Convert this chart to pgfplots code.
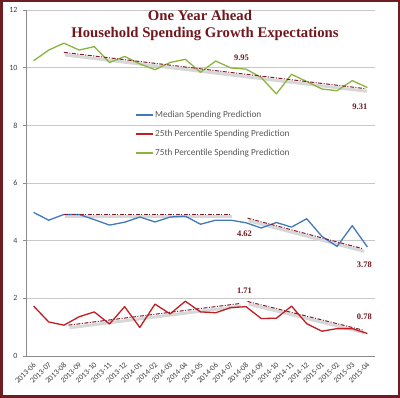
\documentclass[border=0pt]{standalone}
\usepackage{pgfplots}
\pgfplotsset{compat=1.18}
\usepackage{fontspec}
\setmainfont{Liberation Serif}
\newfontfamily\calibri{Carlito}
\definecolor{frame}{RGB}{110,30,35}
\definecolor{ttl}{RGB}{112,24,30}
\definecolor{bl}{RGB}{65,120,190}
\definecolor{rd}{RGB}{192,30,35}
\definecolor{gr}{RGB}{140,180,60}
\definecolor{trend}{RGB}{130,30,45}
\definecolor{shad}{RGB}{215,215,215}
\definecolor{axgray}{RGB}{140,140,140}
\definecolor{gridc}{RGB}{200,200,200}
\definecolor{txt}{RGB}{64,64,64}
\definecolor{legtxt}{RGB}{89,89,89}
\begin{document}
\begin{tikzpicture}
\useasboundingbox (0,0) rectangle (400bp,398bp);
\fill[white] (0,0) rectangle (400bp,398bp);
\draw[frame, line width=2.5bp] (1.25bp,1.25bp) rectangle (398.75bp,396.75bp);
\begin{axis}[
  at={(26bp,42bp)}, anchor=south west, scale only axis,
  width=349bp, height=346bp,
  xmin=-0.5, xmax=22.5, ymin=0, ymax=12,
  axis lines*=left,
  axis line style={axgray, line width=0.8bp},
  ytick={0,2,...,12},
  ymajorgrids, grid style={gridc, line width=0.8bp},
  xtick={0,...,22},
  xticklabels={2013-06,2013-07,2013-08,2013-09,2013-10,2013-11,2013-12,2014-01,2014-02,2014-03,2014-04,2014-05,2014-06,2014-07,2014-08,2014-09,2014-10,2014-11,2014-12,2015-01,2015-02,2015-03,2015-04},
  x tick style={draw=none},
  y tick style={axgray, line width=0.8bp},
  tick align=outside, major tick length=3bp,
  extra x ticks={-0.5,0.5,...,22.5}, extra x tick labels={},
  extra x tick style={grid=none, major tick length=4bp, tick style={draw=axgray, line width=0.8bp}},
  /pgf/number format/assume math mode=true,
  yticklabel style={font=\calibri\fontsize{8}{8}\selectfont, text=txt, xshift=-2bp},
  xticklabel style={font=\calibri\fontsize{7.8}{8}\selectfont, text=txt, rotate=45, anchor=east, xshift=1bp, yshift=-4bp},
]
% shadows of trend lines
\addplot[forget plot, shad, line width=3bp] coordinates {(2.07,10.44) (21.97,9.18)};
\addplot[forget plot, shad, line width=3bp] coordinates {(2.07,4.83) (13.07,4.83)};
\addplot[forget plot, shad, line width=3bp] coordinates {(14.17,4.69) (21.77,3.63)};
\addplot[forget plot, shad, line width=3bp] coordinates {(2.37,0.98) (13.67,1.73)};
\addplot[forget plot, shad, line width=3bp] coordinates {(14.17,1.80) (21.77,0.81)};
% series
\addplot[forget plot, bl, solid, line width=1.3bp, line join=round] coordinates {(0,4.98) (1,4.71) (2,4.91) (3,4.91) (4,4.73) (5,4.54) (6,4.64) (7,4.82) (8,4.65) (9,4.82) (10,4.85) (11,4.57) (12,4.71) (13,4.71) (14,4.62) (15,4.44) (16,4.63) (17,4.47) (18,4.76) (19,4.15) (20,3.80) (21,4.52) (22,3.78)};
\addplot[forget plot, rd, solid, line width=1.3bp, line join=round] coordinates {(0,1.73) (1,1.18) (2,1.07) (3,1.36) (4,1.53) (5,1.11) (6,1.71) (7,0.99) (8,1.80) (9,1.46) (10,1.90) (11,1.53) (12,1.50) (13,1.68) (14,1.71) (15,1.30) (16,1.31) (17,1.73) (18,1.12) (19,0.86) (20,0.95) (21,0.95) (22,0.78)};
\addplot[forget plot, gr, solid, line width=1.3bp, line join=round] coordinates {(0,10.24) (1,10.61) (2,10.85) (3,10.61) (4,10.73) (5,10.18) (6,10.39) (7,10.13) (8,9.93) (9,10.18) (10,10.29) (11,9.84) (12,10.23) (13,9.99) (14,9.95) (15,9.66) (16,9.09) (17,9.77) (18,9.52) (19,9.26) (20,9.20) (21,9.55) (22,9.31)};
% trend lines
\addplot[forget plot, trend, line width=1bp, dash pattern=on 4bp off 1.5bp on 1bp off 1.5bp] coordinates {(2,10.53) (21.9,9.27)};
\addplot[forget plot, trend, line width=1bp, dash pattern=on 4bp off 1.5bp on 1bp off 1.5bp] coordinates {(2,4.92) (13,4.92)};
\addplot[forget plot, trend, line width=1bp, dash pattern=on 4bp off 1.5bp on 1bp off 1.5bp] coordinates {(14.1,4.78) (21.7,3.72)};
\addplot[forget plot, trend, line width=1bp, dash pattern=on 4bp off 1.5bp on 1bp off 1.5bp] coordinates {(2.3,1.07) (13.6,1.82)};
\addplot[forget plot, trend, line width=1bp, dash pattern=on 4bp off 1.5bp on 1bp off 1.5bp] coordinates {(14.1,1.89) (21.7,0.90)};
% value labels
\tikzset{lbl/.style={font=\bfseries\fontsize{8.5}{9}\selectfont, text=ttl}}
\node[lbl] at (axis cs:13.7,10.33) {9.95};
\node[lbl] at (axis cs:21.5,8.63) {9.31};
\node[lbl] at (axis cs:13.9,4.24) {4.62};
\node[lbl] at (axis cs:21.8,3.16) {3.78};
\node[lbl] at (axis cs:13.9,2.26) {1.71};
\node[lbl] at (axis cs:21.8,1.36) {0.78};
\end{axis}
% legend
\begin{scope}[solid, line width=1.4bp, line cap=butt]
\draw[draw=bl, solid] (136bp,283bp) -- (153bp,283bp);
\draw[draw=rd, solid] (136bp,264bp) -- (153bp,264bp);
\draw[draw=gr, solid] (136bp,245bp) -- (153bp,245bp);
\end{scope}
\begin{scope}[every node/.style={anchor=west, inner sep=0pt, text=legtxt, font=\calibri\fontsize{9.3}{10}\selectfont}]
\node at (155bp,283bp) {Median Spending Prediction};
\node at (155bp,264bp) {25th Percentile Spending Prediction};
\node at (155bp,245bp) {75th Percentile Spending Prediction};
\end{scope}
\node[anchor=base, text=ttl, font=\bfseries\fontsize{14.8}{16}\selectfont] at (200bp,377.5bp) {One Year Ahead};
\node[anchor=base, text=ttl, font=\bfseries\fontsize{14.8}{16}\selectfont] at (205bp,360.3bp) {Household Spending Growth Expectations};
\end{tikzpicture}
\end{document}
